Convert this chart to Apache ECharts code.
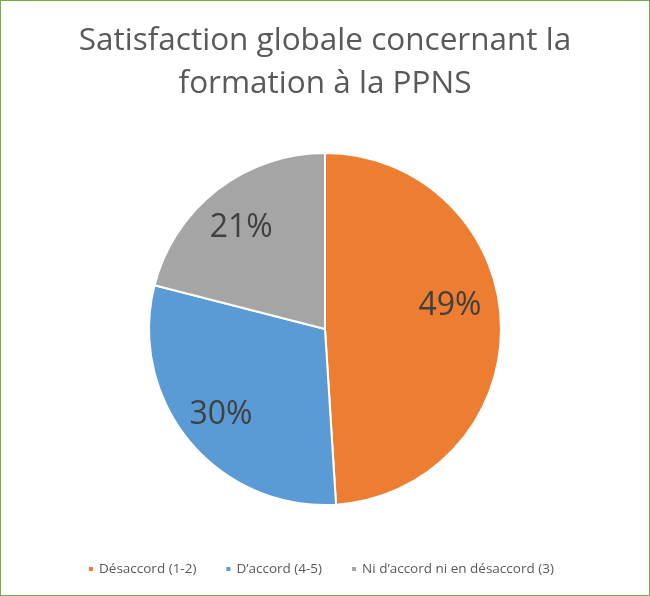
<!DOCTYPE html>
<html>
<head>
<meta charset="utf-8">
<script src="https://cdn.jsdelivr.net/npm/echarts@6/dist/echarts.min.js"></script>
<style>
  html, body { margin: 0; padding: 0; background: #fff; }
  #main { width: 648px; height: 594px; border: 1px solid #70AD47; }
</style>
</head>
<body>
<div id="main"></div>
<script>
// données du camembert
var categories = ['Désaccord (1-2)', 'D\u2019accord (4-5)', 'Ni d\u2019accord ni en désaccord (3)'];
var values = [49, 30, 21];
var colors = ['#ED7D31', '#5B9BD5', '#A5A5A5'];

var myChart = echarts.init(document.getElementById('main'));

var pieData = categories.map(function (name, i) {
    return { name: name, value: values[i], itemStyle: { color: colors[i] } };
});
// étiquettes placées plus loin du centre (comme Excel)
var labelOffsets = [[-10, -19], [0, 0], [-1, 6]];
var labelData = categories.map(function (name, i) {
    return { name: name, value: values[i], label: { offset: labelOffsets[i] } };
});

var option = {
    title: {
        text: 'Satisfaction globale concernant la\nformation à la PPNS',
        left: 'center',
        top: 14,
        textStyle: {
            fontFamily: 'Open Sans',
            fontWeight: 'normal',
            fontSize: 31.5,
            lineHeight: 43,
            color: '#595959'
        }
    },
    legend: {
        data: categories,
        bottom: 14,
        left: 81,
        icon: 'rect',
        itemWidth: 6,
        itemHeight: 6,
        itemGap: 28,
        textStyle: {
            fontFamily: 'Open Sans',
            fontSize: 13.5,
            color: '#595959'
        }
    },
    series: [{
        name: 'satisfaction',
        type: 'pie',
        center: [324, 328],
        radius: [0, 176],
        startAngle: 90,
        clockwise: true,
        label: { show: false },
        labelLine: { show: false },
        itemStyle: { borderColor: '#fff', borderWidth: 2 },
        emphasis: { disabled: true },
        data: pieData
    }, {
        name: 'etiquettes',
        type: 'pie',
        silent: true,
        center: [324, 328],
        radius: [88, 176],
        startAngle: 90,
        clockwise: true,
        itemStyle: { color: 'rgba(0,0,0,0)' },
        labelLine: { show: false },
        label: {
            show: true,
            position: 'inside',
            formatter: '{c}%',
            fontFamily: 'Open Sans',
            fontSize: 32,
            color: '#404040'
        },
        data: labelData
    }]
};
myChart.setOption(option);

window.onresize = function () {
    myChart.resize();
};
</script>
</body>
</html>
